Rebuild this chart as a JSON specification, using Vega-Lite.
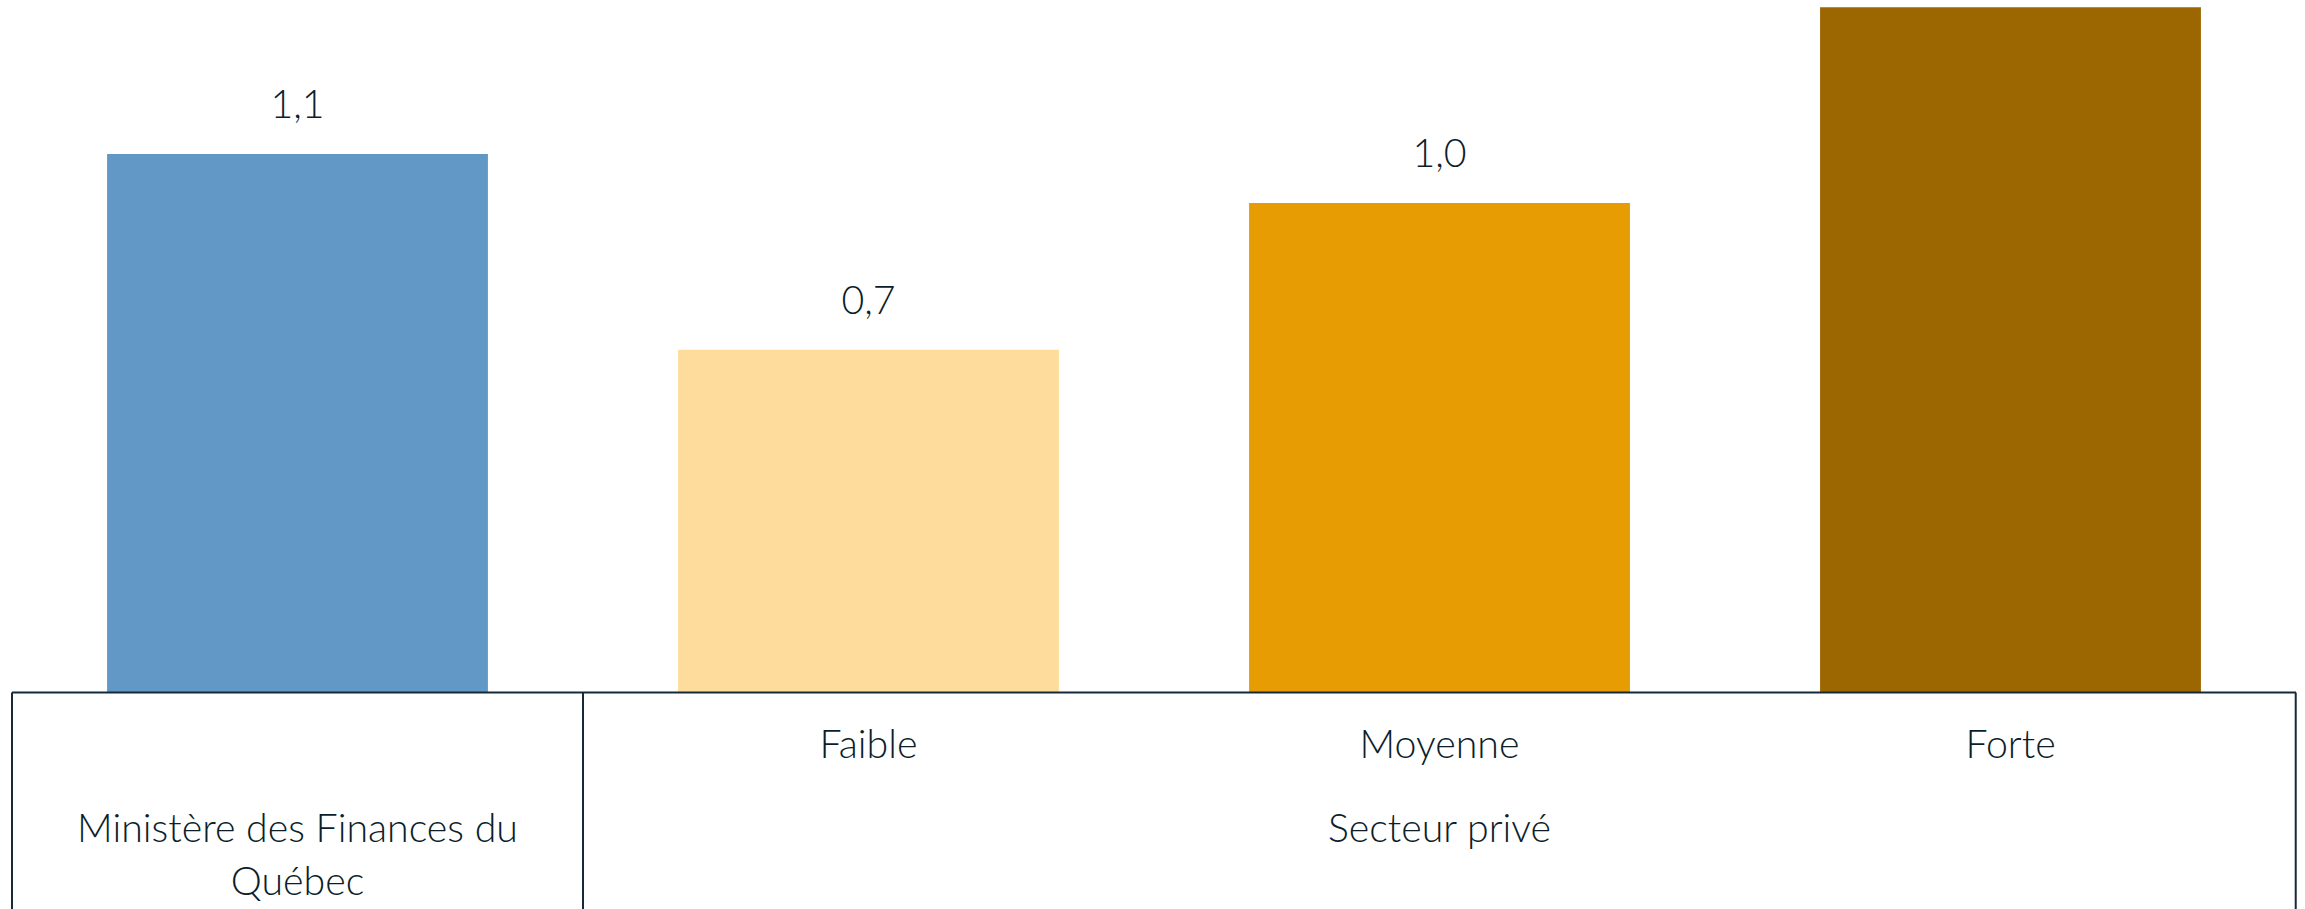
{
  "$schema": "https://vega.github.io/schema/vega-lite/v6.json",
  "width": 2284,
  "height": 909,
  "autosize": {"type": "none"},
  "padding": {"left": 12, "right": 9, "top": 0, "bottom": 0},
  "background": "white",
  "config": {
    "view": {"stroke": null},
    "locale": {"number": {"decimal": ",", "thousands": " ", "grouping": [3], "currency": ["", " $"]}},
    "text": {"font": "Lato", "fontWeight": 300, "fontSize": 39.3, "color": "#0b1e2a"}
  },
  "datasets": {
    "bars": [
      {"cat": "MFQ", "sub": "", "value": 1.1, "color": "#6298c6"},
      {"cat": "Faible", "sub": "Faible", "value": 0.7, "color": "#fddc9c"},
      {"cat": "Moyenne", "sub": "Moyenne", "value": 1.0, "color": "#e69c02"},
      {"cat": "Forte", "sub": "Forte", "value": 1.4, "color": "#9c6600"}
    ],
    "groups": [
      {"cat": "MFQ", "group": ["Ministère des Finances du", "Québec"]},
      {"cat": "Moyenne", "group": ["Secteur privé"]}
    ]
  },
  "layer": [
    {
      "data": {"name": "bars"},
      "mark": {"type": "bar", "width": {"band": 0.667}, "clip": true},
      "encoding": {
        "x": {"field": "cat", "type": "nominal",
              "scale": {"type": "band", "domain": ["MFQ", "Faible", "Moyenne", "Forte"], "paddingInner": 0, "paddingOuter": 0}, "axis": null},
        "y": {"field": "value", "type": "quantitative",
              "scale": {"domain": [-0.4423, 1.4147], "nice": false, "zero": false}, "axis": null},
        "y2": {"datum": 0},
        "color": {"field": "color", "type": "nominal", "scale": null, "legend": null}
      }
    },
    {
      "data": {"name": "bars"},
      "transform": [{"filter": "datum.cat !== 'Forte'"}],
      "mark": {"type": "text", "baseline": "alphabetic", "align": "center", "dy": -36, "clip": true},
      "encoding": {
        "x": {"field": "cat", "type": "nominal"},
        "y": {"field": "value", "type": "quantitative"},
        "text": {"field": "value", "type": "quantitative", "format": ".1f"}
      }
    },
    {
      "data": {"name": "bars"},
      "mark": {"type": "text", "baseline": "alphabetic", "align": "center", "dy": 65.5},
      "encoding": {
        "x": {"field": "cat", "type": "nominal"},
        "y": {"datum": 0},
        "text": {"field": "sub", "type": "nominal"}
      }
    },
    {
      "data": {"name": "groups"},
      "mark": {"type": "text", "baseline": "alphabetic", "align": "center", "dy": 150, "lineHeight": 53},
      "encoding": {
        "x": {"field": "cat", "type": "nominal"},
        "y": {"datum": 0},
        "text": {"field": "group"}
      }
    },
    {
      "data": {"values": [{"edge": "base"}]},
      "mark": {"type": "rule", "color": "#14293a", "strokeWidth": 2},
      "encoding": {"y": {"datum": 0}}
    },
    {
      "data": {"values": [{"cat": "MFQ"}, {"cat": "Faible"}]},
      "mark": {"type": "rule", "color": "#14293a", "strokeWidth": 2},
      "encoding": {
        "x": {"field": "cat", "type": "nominal", "bandPosition": 0},
        "y": {"datum": 0},
        "y2": {"datum": -0.4423}
      }
    },
    {
      "data": {"values": [{"cat": "Forte"}]},
      "mark": {"type": "rule", "color": "#14293a", "strokeWidth": 2},
      "encoding": {
        "x": {"field": "cat", "type": "nominal", "bandPosition": 0.9995},
        "y": {"datum": 0},
        "y2": {"datum": -0.4423}
      }
    }
  ]
}
